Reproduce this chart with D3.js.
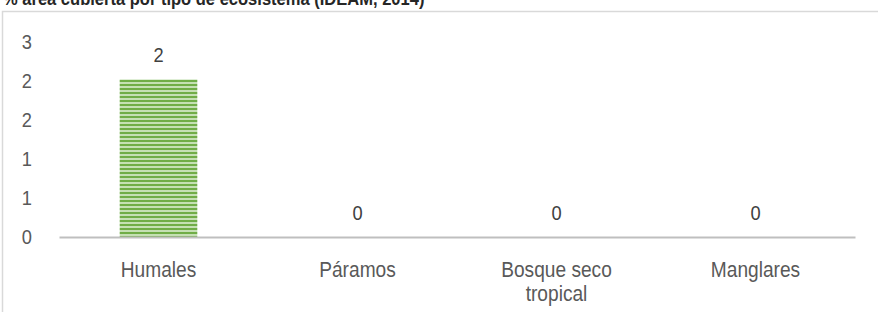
<!DOCTYPE html>
<html lang="es">
<head>
<meta charset="utf-8">
<script src="https://d3js.org/d3.v7.min.js"></script>
<style>
  body { margin: 0; background: #fff; }
  svg { display: block; }
  text { font-family: "Liberation Sans", Arial, sans-serif; }
</style>
</head>
<body>
<svg id="chart"></svg>
<script>
// chart data
const categories = ["Humales", "Páramos", "Bosque seco tropical", "Manglares"];
const values = [2.02, 0, 0, 0];
const yTicks = [0, 0.5, 1, 1.5, 2, 2.5];
const yTickLabels = ["0", "1", "1", "2", "2", "3"];
const title = "% área cubierta por tipo de ecosistema (IDEAM, 2014)";

const W = 878, H = 312;
const margin = {top: 42, right: 23, bottom: 75, left: 59};
const squeeze = "scale(0.87,1)";   // text in the original looks tall and narrow

const svg = d3.select("#chart").attr("width", W).attr("height", H);

// striped fill like the Excel pattern
const defs = svg.append("defs");
const pat = defs.append("pattern")
    .attr("id", "stripes")
    .attr("patternUnits", "userSpaceOnUse")
    .attr("width", 8).attr("height", 4);
pat.append("rect").attr("width", 8).attr("height", 4).attr("fill", "#c5e0b4");
pat.append("rect").attr("width", 8).attr("height", 2).attr("fill", "#70ad47");

// title (cut off at the top) and frame
svg.append("g")
    .attr("transform", "translate(3,5)")
  .append("text")
    .attr("transform", squeeze)
    .attr("font-size", 19).attr("font-weight", "bold")
    .attr("fill", "#262626")
    .text(title);

svg.append("rect")
    .attr("x", 2.5).attr("y", 11.5)
    .attr("width", W + 10).attr("height", H + 10)
    .attr("fill", "none")
    .attr("stroke", "#d9d9d9")
    .attr("stroke-width", 1.5);

const x = d3.scaleBand()
    .domain(categories)
    .range([margin.left, W - margin.right])
    .paddingInner(0.61).paddingOuter(0.305);

const y = d3.scaleLinear()
    .domain([0, 2.5])
    .range([237, margin.top]);

// y axis labels, no line
const yAxis = svg.append("g")
    .attr("transform", "translate(32,0)")
    .call(d3.axisLeft(y).tickValues(yTicks).tickSize(0).tickPadding(0)
        .tickFormat((d, i) => yTickLabels[i]));
yAxis.select(".domain").remove();
yAxis.selectAll("text")
    .attr("font-size", 21)
    .attr("fill", "#595959")
    .attr("transform", squeeze)
    .attr("font-family", "Liberation Sans, Arial, sans-serif");

// bars
svg.append("g").selectAll("rect")
    .data(values)
    .join("rect")
    .attr("x", (d, i) => x(categories[i]))
    .attr("y", d => y(d))
    .attr("width", x.bandwidth())
    .attr("height", d => y(0) - y(d))
    .attr("fill", "url(#stripes)");

// value labels
svg.append("g").selectAll("g")
    .data(values)
    .join("g")
    .attr("transform", (d, i) => `translate(${x(categories[i]) + x.bandwidth() / 2},${y(d) - 17})`)
  .append("text")
    .attr("transform", squeeze)
    .attr("text-anchor", "middle")
    .attr("font-size", 21)
    .attr("fill", "#404040")
    .text(d => d3.format(".0f")(d));

// x axis
const xAxis = svg.append("g")
    .attr("transform", `translate(0,${y(0)})`)
    .call(d3.axisBottom(x).tickSize(0).tickPadding(0).tickFormat(""));
xAxis.select(".domain")
    .attr("stroke", "#bfbfbf")
    .attr("stroke-width", 2);

// category labels, wrapped like the original
const wrapAt = 12;
xAxis.selectAll(".tick").each(function(d) {
  const words = d.split(" ");
  const lines = [];
  let cur = "";
  words.forEach(w => {
    const t = cur ? cur + " " + w : w;
    if (t.length > wrapAt && cur) { lines.push(cur); cur = w; } else cur = t;
  });
  lines.push(cur);
  const t = d3.select(this).append("text")
      .attr("text-anchor", "middle")
      .attr("font-size", 22)
      .attr("transform", squeeze)
      .attr("fill", "#595959");
  lines.forEach((l, i) => {
    t.append("tspan").attr("x", 0).attr("y", 40 + i * 24).text(l);
  });
});
</script>
</body>
</html>
